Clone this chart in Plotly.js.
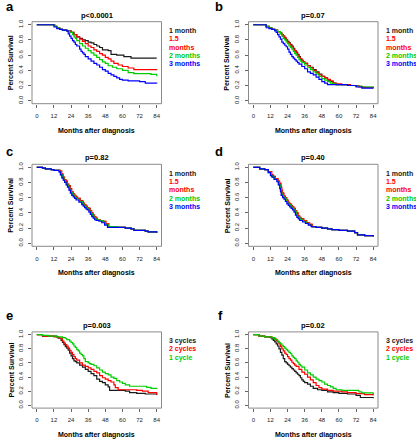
<!DOCTYPE html>
<html><head><meta charset="utf-8">
<script src="https://cdn.plot.ly/plotly-3.0.1.min.js"></script>
<style>html,body{margin:0;padding:0;background:#fff}#chart{width:416px;height:440px}</style>
</head><body><div id="chart"></div>
<script>
// ---- tick labels / text ----
const monthTicks = [0, 12, 24, 36, 48, 60, 72, 84];
const survTicks = [0, 0.2, 0.4, 0.6, 0.8, 1.0];
const survTickText = ['0.0', '0.2', '0.4', '0.6', '0.8', '1.0'];
const panelLetters = ['a', 'b', 'c', 'd', 'e', 'f'];
const pValues = ['p<0.0001', 'p=0.07', 'p=0.82', 'p=0.40', 'p=0.003', 'p=0.02'];
const intervalLegendLines = [['1 month'], ['1.5', 'months'], ['2 months'], ['3 months']];
const cycleLegendLines = [['3 cycles'], ['2 cycles'], ['1 cycle']];
const intervalColors = ['#1a1a1a', '#ff0000', '#00cc00', '#0000ff'];
const cycleColors = ['#1a1a1a', '#ff0000', '#00cc00'];

// ---- panel a ----
const aT1 = [0, 12.5, 14, 16, 18, 21, 24, 26, 28, 30, 32, 34, 36, 38, 40, 42, 44, 46, 50, 52, 56, 61, 66, 84];
const aS1 = [1, 0.98, 0.96, 0.94, 0.93, 0.92, 0.90, 0.87, 0.84, 0.82, 0.80, 0.79, 0.77, 0.76, 0.74, 0.72, 0.70, 0.67, 0.66, 0.61, 0.60, 0.58, 0.56, 0.56];
const aT15 = [0, 12.5, 14, 16, 18, 21, 24, 26, 28, 30, 32, 34, 36, 38, 40, 42, 44, 46, 48, 50, 52, 54, 57, 60, 64, 68, 84];
const aS15 = [1, 0.98, 0.96, 0.94, 0.93, 0.92, 0.90, 0.87, 0.84, 0.81, 0.78, 0.75, 0.72, 0.70, 0.67, 0.65, 0.62, 0.60, 0.57, 0.55, 0.52, 0.49, 0.47, 0.45, 0.43, 0.41, 0.40];
const aT2 = [0, 12.5, 14, 16, 18, 21, 23, 25, 26, 27, 28, 30, 32, 34, 36, 38, 40, 42, 44, 46, 48, 50, 53, 56, 60, 64, 68, 80, 84];
const aS2 = [1, 0.98, 0.96, 0.94, 0.93, 0.92, 0.90, 0.87, 0.84, 0.82, 0.79, 0.75, 0.72, 0.69, 0.66, 0.63, 0.60, 0.57, 0.54, 0.51, 0.49, 0.46, 0.44, 0.42, 0.40, 0.37, 0.355, 0.345, 0.32];
const aT3 = [0, 12, 14, 16, 18, 21, 22, 23, 24, 25, 26, 27, 28, 30, 31, 32, 33, 34, 36, 38, 40, 42, 44, 46, 48, 50, 52, 54, 56, 58, 60, 64, 72, 76, 84];
const aS3 = [1, 0.97, 0.95, 0.94, 0.93, 0.92, 0.88, 0.85, 0.82, 0.79, 0.77, 0.74, 0.72, 0.68, 0.65, 0.63, 0.61, 0.58, 0.55, 0.52, 0.49, 0.47, 0.44, 0.41, 0.39, 0.36, 0.34, 0.32, 0.30, 0.28, 0.27, 0.26, 0.25, 0.23, 0.225];

// ---- panel b ----
const bT1 = [0, 9, 11, 13, 15, 17, 19, 20, 21, 22, 23, 24, 25, 26, 27, 28, 29, 30, 31, 32, 33, 34, 35, 36, 38, 40, 42, 44, 46, 48, 50, 52, 54, 56, 58, 62, 68, 72, 76, 84];
const bS1 = [1, 0.98, 0.96, 0.94, 0.93, 0.91, 0.89, 0.87, 0.85, 0.82, 0.80, 0.78, 0.76, 0.74, 0.72, 0.69, 0.66, 0.64, 0.61, 0.58, 0.55, 0.53, 0.51, 0.49, 0.46, 0.44, 0.41, 0.38, 0.35, 0.32, 0.30, 0.27, 0.25, 0.23, 0.21, 0.21, 0.20, 0.19, 0.175, 0.17];
const bT15 = [0, 9, 11, 13, 15, 17, 19, 20, 21, 22, 23, 24, 25, 26, 27, 28, 29, 30, 31, 32, 33, 34, 35, 36, 38, 40, 42, 44, 46, 48, 50, 52, 54, 56, 58, 62, 68, 74, 78, 84];
const bS15 = [1, 0.98, 0.96, 0.94, 0.93, 0.91, 0.89, 0.87, 0.85, 0.83, 0.80, 0.77, 0.75, 0.73, 0.71, 0.68, 0.66, 0.63, 0.60, 0.57, 0.55, 0.53, 0.51, 0.49, 0.46, 0.43, 0.40, 0.37, 0.34, 0.32, 0.30, 0.28, 0.26, 0.23, 0.22, 0.21, 0.20, 0.18, 0.17, 0.17];
const bT2 = [0, 9, 11, 13, 15, 17, 19, 20, 21, 22, 23, 24, 25, 26, 27, 28, 29, 30, 31, 32, 33, 34, 36, 38, 40, 42, 44, 46, 48, 50, 52, 54, 56, 58, 62, 66, 72, 76, 84];
const bS2 = [1, 0.98, 0.96, 0.94, 0.93, 0.91, 0.88, 0.85, 0.82, 0.80, 0.77, 0.75, 0.72, 0.70, 0.68, 0.65, 0.62, 0.60, 0.57, 0.54, 0.52, 0.50, 0.47, 0.44, 0.41, 0.38, 0.35, 0.32, 0.29, 0.27, 0.25, 0.23, 0.22, 0.21, 0.21, 0.20, 0.19, 0.18, 0.175];
const bT3 = [0, 9, 11, 13, 15, 16, 17, 18, 19, 20, 21, 22, 23, 24, 25, 26, 27, 28, 29, 30, 31, 32, 34, 36, 38, 40, 42, 44, 46, 48, 50, 52, 54, 60, 66, 72, 76, 84];
const bS3 = [1, 0.96, 0.95, 0.94, 0.92, 0.90, 0.87, 0.84, 0.81, 0.77, 0.75, 0.73, 0.71, 0.68, 0.64, 0.61, 0.58, 0.56, 0.54, 0.52, 0.50, 0.48, 0.45, 0.42, 0.38, 0.36, 0.34, 0.31, 0.28, 0.25, 0.23, 0.21, 0.21, 0.21, 0.20, 0.18, 0.165, 0.16];

// ---- panel c ----
const cT1 = [0, 4, 6, 10, 12, 16, 17, 18, 19, 20, 21, 22, 23, 24, 25, 26, 27, 28, 30, 32, 33, 34, 35, 36, 37, 38, 39, 40, 41, 42, 44, 46, 48, 50, 56, 60, 62, 66, 68, 76, 78, 84];
const cS1 = [1, 0.99, 0.98, 0.97, 0.96, 0.95, 0.91, 0.87, 0.84, 0.82, 0.78, 0.76, 0.72, 0.68, 0.65, 0.63, 0.61, 0.59, 0.56, 0.53, 0.51, 0.49, 0.47, 0.46, 0.43, 0.40, 0.37, 0.35, 0.33, 0.31, 0.30, 0.29, 0.26, 0.22, 0.21, 0.21, 0.20, 0.19, 0.17, 0.16, 0.15, 0.14];
const cT15 = [0, 4, 6, 10, 12, 16.5, 17.5, 18.5, 19.5, 20.5, 21.5, 22.5, 23.5, 24.5, 25.5, 26.5, 27.5, 28.5, 30.5, 32.5, 33.5, 34.5, 35.5, 36.5, 37.5, 38.5, 39.5, 40.5, 41.5, 42.5, 44.5, 46.5, 48.5, 50.5, 56, 60, 62, 66, 68, 76, 78, 84];
const cS15 = [1, 0.99, 0.98, 0.97, 0.96, 0.95, 0.91, 0.87, 0.84, 0.82, 0.78, 0.76, 0.72, 0.68, 0.65, 0.63, 0.61, 0.59, 0.56, 0.53, 0.51, 0.49, 0.47, 0.46, 0.43, 0.40, 0.37, 0.35, 0.33, 0.31, 0.30, 0.29, 0.26, 0.22, 0.21, 0.21, 0.20, 0.19, 0.17, 0.16, 0.15, 0.14];
const cT2 = [0, 4, 6, 10, 12, 16, 17, 18, 19, 20, 21, 22, 23, 24, 25, 26, 27, 28, 30, 32, 33, 34, 35, 36, 37, 38, 39, 40, 41, 42, 44, 46, 48, 50, 56, 60, 62, 66, 68, 76, 78, 84];
const cS2 = [1, 0.99, 0.98, 0.97, 0.96, 0.94, 0.90, 0.86, 0.83, 0.80, 0.77, 0.74, 0.70, 0.67, 0.64, 0.62, 0.60, 0.58, 0.55, 0.52, 0.50, 0.48, 0.46, 0.45, 0.42, 0.39, 0.36, 0.34, 0.32, 0.31, 0.30, 0.28, 0.25, 0.22, 0.21, 0.21, 0.20, 0.19, 0.17, 0.16, 0.15, 0.14];
const cT3 = [0, 4, 6, 10, 12, 15.5, 16.5, 17.5, 18.5, 19.5, 20.5, 21.5, 22.5, 23.5, 24.5, 25.5, 26.5, 27.5, 29.5, 31.5, 32.5, 33.5, 34.5, 35.5, 36.5, 37.5, 38.5, 39.5, 40.5, 41.5, 43.5, 45.5, 47.5, 49.5, 56, 60, 62, 66, 68, 76, 78, 84];
const cS3 = [1, 0.99, 0.98, 0.97, 0.96, 0.94, 0.90, 0.86, 0.83, 0.80, 0.77, 0.74, 0.70, 0.66, 0.63, 0.61, 0.59, 0.57, 0.54, 0.51, 0.49, 0.47, 0.45, 0.44, 0.41, 0.38, 0.35, 0.33, 0.31, 0.30, 0.29, 0.27, 0.24, 0.21, 0.21, 0.21, 0.20, 0.19, 0.17, 0.16, 0.15, 0.14];

// ---- panel d ----
const dT1 = [0, 4.5, 8, 10.5, 12.5, 13.5, 15, 17, 18, 19, 19.5, 20, 21, 22, 23, 24, 25, 26, 27, 28, 29, 30, 31, 32, 33, 35, 37, 39, 41, 44, 48, 52, 55, 60, 66, 71, 73, 78, 84];
const dS1 = [1, 0.98, 0.97, 0.94, 0.90, 0.88, 0.85, 0.82, 0.79, 0.74, 0.70, 0.66, 0.62, 0.60, 0.57, 0.54, 0.52, 0.50, 0.48, 0.46, 0.43, 0.40, 0.36, 0.34, 0.32, 0.30, 0.27, 0.25, 0.22, 0.21, 0.20, 0.19, 0.18, 0.17, 0.16, 0.14, 0.11, 0.10, 0.09];
const dT15 = [0, 4.5, 8, 10.5, 13, 14, 15.5, 17.5, 18.5, 19.5, 20, 20.5, 21.5, 22.5, 23.5, 24.5, 25.5, 26.5, 27.5, 28.5, 29.5, 30.5, 31.5, 32.5, 33.5, 35.5, 37.5, 39.5, 41.5, 44, 48, 52, 55, 60, 66, 71, 73, 78, 84];
const dS15 = [1, 0.98, 0.97, 0.94, 0.90, 0.88, 0.85, 0.82, 0.79, 0.74, 0.70, 0.66, 0.62, 0.60, 0.57, 0.54, 0.52, 0.50, 0.48, 0.46, 0.43, 0.40, 0.36, 0.34, 0.32, 0.30, 0.27, 0.25, 0.22, 0.21, 0.20, 0.19, 0.18, 0.17, 0.16, 0.14, 0.11, 0.10, 0.09];
const dT2 = [0, 4.5, 8, 10.5, 12.5, 13.5, 15, 17, 18, 19, 19.5, 20, 21, 22, 23, 24, 25, 26, 27, 28, 29, 30, 31, 32, 33, 35, 37, 39, 41, 44, 48, 52, 55, 60, 66, 71, 73, 78, 84];
const dS2 = [1, 0.98, 0.97, 0.93, 0.89, 0.87, 0.84, 0.81, 0.77, 0.72, 0.68, 0.64, 0.61, 0.59, 0.56, 0.53, 0.51, 0.49, 0.47, 0.45, 0.42, 0.38, 0.35, 0.33, 0.31, 0.29, 0.26, 0.24, 0.22, 0.21, 0.20, 0.19, 0.18, 0.17, 0.16, 0.14, 0.11, 0.10, 0.09];
const dT3 = [0, 4.5, 8, 10.5, 12, 13, 14.5, 16.5, 17.5, 18.5, 19, 19.5, 20.5, 21.5, 22.5, 23.5, 24.5, 25.5, 26.5, 27.5, 28.5, 29.5, 30.5, 31.5, 32.5, 34.5, 36.5, 38.5, 40.5, 44, 48, 52, 55, 60, 66, 71, 73, 78, 84];
const dS3 = [1, 0.98, 0.97, 0.93, 0.89, 0.87, 0.84, 0.81, 0.77, 0.72, 0.68, 0.63, 0.60, 0.58, 0.55, 0.52, 0.50, 0.48, 0.46, 0.44, 0.41, 0.37, 0.34, 0.32, 0.30, 0.28, 0.26, 0.24, 0.22, 0.21, 0.20, 0.19, 0.18, 0.17, 0.16, 0.14, 0.11, 0.10, 0.09];

// ---- panel e ----
const eT3c = [0, 4, 8, 14, 15, 17, 18, 19, 20, 21, 22, 23, 24, 25, 26, 27, 28, 30, 32, 34, 36, 38, 40, 42, 44, 46, 48, 50, 51, 60, 62, 65, 70, 76, 84];
const eS3c = [1, 0.98, 0.98, 0.97, 0.95, 0.92, 0.89, 0.86, 0.83, 0.81, 0.78, 0.74, 0.70, 0.66, 0.63, 0.62, 0.60, 0.57, 0.54, 0.51, 0.48, 0.45, 0.42, 0.37, 0.34, 0.32, 0.29, 0.26, 0.21, 0.21, 0.20, 0.18, 0.17, 0.16, 0.145];
const eT2c = [0, 4, 8, 12, 15, 16, 18, 19, 20, 21, 22, 23, 24, 25, 26, 27, 28, 30, 32, 34, 36, 38, 40, 42, 44, 46, 48, 50, 52, 54, 55, 57, 70, 74, 78, 84];
const eS2c = [1, 0.98, 0.98, 0.97, 0.96, 0.95, 0.91, 0.88, 0.86, 0.84, 0.81, 0.78, 0.75, 0.72, 0.69, 0.66, 0.64, 0.60, 0.57, 0.55, 0.53, 0.51, 0.48, 0.46, 0.42, 0.39, 0.37, 0.35, 0.33, 0.29, 0.25, 0.22, 0.21, 0.20, 0.18, 0.15];
const eT1c = [0, 4, 8, 14, 18, 20, 21, 23, 24, 25, 26, 27, 28, 29, 30, 31, 32, 33, 34, 36, 37, 38, 40, 42, 44, 46, 48, 50, 52, 54, 56, 58, 60, 62, 65, 72, 77, 80, 84];
const eS1c = [1, 0.99, 0.98, 0.97, 0.96, 0.95, 0.93, 0.91, 0.89, 0.87, 0.84, 0.82, 0.79, 0.77, 0.74, 0.72, 0.70, 0.66, 0.62, 0.60, 0.59, 0.58, 0.56, 0.53, 0.50, 0.47, 0.45, 0.43, 0.40, 0.38, 0.35, 0.33, 0.31, 0.29, 0.27, 0.27, 0.255, 0.24, 0.23];

// ---- panel f ----
const fT3c = [0, 4, 8, 12, 13, 14, 15, 16, 17, 18, 19, 20, 21, 22, 23, 24, 25, 26, 27, 28, 29, 30, 31, 32, 33, 34, 35, 36, 38, 40, 42, 45, 48, 52, 56, 60, 66, 72, 75, 84];
const fS3c = [1, 0.98, 0.97, 0.96, 0.94, 0.92, 0.90, 0.87, 0.84, 0.80, 0.75, 0.71, 0.66, 0.62, 0.60, 0.58, 0.56, 0.54, 0.52, 0.50, 0.48, 0.46, 0.44, 0.42, 0.39, 0.36, 0.34, 0.32, 0.30, 0.27, 0.24, 0.22, 0.21, 0.19, 0.18, 0.17, 0.16, 0.14, 0.11, 0.10];
const fT2c = [0, 4, 8, 13, 15, 16, 17, 18, 19, 20, 21, 22, 23, 24, 25, 26, 27, 28, 29, 30, 32, 34, 36, 38, 40, 42, 44, 46, 48, 52, 56, 62, 66, 72, 78, 84];
const fS2c = [1, 0.98, 0.97, 0.96, 0.94, 0.92, 0.90, 0.87, 0.83, 0.80, 0.77, 0.74, 0.72, 0.69, 0.66, 0.64, 0.61, 0.59, 0.57, 0.55, 0.51, 0.47, 0.44, 0.40, 0.36, 0.32, 0.28, 0.25, 0.23, 0.21, 0.20, 0.19, 0.18, 0.165, 0.15, 0.14];
const fT1c = [0, 4, 8, 13, 15, 17, 18, 19, 20, 21, 22, 23, 24, 25, 26, 27, 28, 29, 30, 31, 32, 33, 34, 36, 38, 40, 42, 44, 46, 48, 50, 52, 54, 56, 58, 62, 72, 74, 76, 84];
const fS1c = [1, 0.98, 0.97, 0.96, 0.93, 0.91, 0.89, 0.87, 0.85, 0.83, 0.81, 0.79, 0.77, 0.75, 0.73, 0.70, 0.68, 0.66, 0.63, 0.61, 0.58, 0.56, 0.54, 0.50, 0.46, 0.43, 0.40, 0.37, 0.35, 0.33, 0.30, 0.28, 0.26, 0.24, 0.22, 0.21, 0.21, 0.19, 0.175, 0.155];

// ---- assemble ----
const W = 416, H = 440;
const panels = [
  {curves: [[aT1, aS1], [aT15, aS15], [aT2, aS2], [aT3, aS3]], colors: intervalColors, legend: intervalLegendLines},
  {curves: [[bT1, bS1], [bT15, bS15], [bT2, bS2], [bT3, bS3]], colors: intervalColors, legend: intervalLegendLines},
  {curves: [[cT1, cS1], [cT15, cS15], [cT2, cS2], [cT3, cS3]], colors: intervalColors, legend: intervalLegendLines},
  {curves: [[dT1, dS1], [dT15, dS15], [dT2, dS2], [dT3, dS3]], colors: intervalColors, legend: intervalLegendLines},
  {curves: [[eT3c, eS3c], [eT2c, eS2c], [eT1c, eS1c]], colors: cycleColors, legend: cycleLegendLines},
  {curves: [[fT3c, fS3c], [fT2c, fS2c], [fT1c, fS1c]], colors: cycleColors, legend: cycleLegendLines}
];
// plot boxes in pixels [left, top, right, bottom]
const colX = [[32, 161.5], [248.5, 378]];
const rowY = [[21.7, 103.7], [164.3, 246.3], [331.9, 408.1]];
const letterPos = [[4, 7], [213, 7], [4, 151], [213, 151], [4, 315], [216, 315]];
const px = x => x / W, py = y => 1 - y / H;

const data = [], annotations = [], shapes = [];
const layout = {
  width: W, height: H, margin: {l: 0, r: 0, t: 0, b: 0},
  paper_bgcolor: '#fff', plot_bgcolor: '#fff', showlegend: false,
  font: {family: 'Liberation Sans, Arial, sans-serif', color: '#000'}
};
const boldFont = (size, color) => ({family: 'Liberation Sans, Arial, sans-serif', size: size, color: color || '#000', weight: 'bold'});

panels.forEach((p, i) => {
  const col = i % 2, row = Math.floor(i / 2);
  const [x0, x1] = colX[col], [y0, y1] = rowY[row];
  const n = i + 1, xa = 'x' + (n === 1 ? '' : n), ya = 'y' + (n === 1 ? '' : n);
  layout['xaxis' + (n === 1 ? '' : n)] = {
    domain: [px(x0), px(x1)], anchor: ya, range: [-3.36, 87.36],
    tickmode: 'array', tickvals: monthTicks, ticktext: monthTicks.map(String),
    ticks: 'outside', ticklen: 3, tickwidth: 1, tickcolor: '#666',
    ticklabelstandoff: 3,
    tickfont: {size: 6, color: '#222', family: 'Liberation Sans, Arial, sans-serif'},
    showline: false, showgrid: false, zeroline: false, fixedrange: true
  };
  layout['yaxis' + (n === 1 ? '' : n)] = {
    domain: [py(y1), py(y0)], anchor: xa, range: [-0.04, 1.04],
    tickmode: 'array', tickvals: survTicks, ticktext: survTickText, tickangle: -90,
    ticks: 'outside', ticklen: 3, tickwidth: 1, tickcolor: '#666',
    ticklabelstandoff: 3,
    tickfont: {size: 6, color: '#222', family: 'Liberation Sans, Arial, sans-serif'},
    showline: false, showgrid: false, zeroline: false, fixedrange: true
  };
  shapes.push({type: 'rect', xref: xa + ' domain', yref: ya + ' domain', x0: 0, x1: 1, y0: 0, y1: 1,
    line: {color: '#8a8a8a', width: 1}, layer: 'above'});
  p.curves.forEach((c, k) => {
    data.push({x: c[0], y: c[1], xaxis: xa, yaxis: ya, type: 'scatter', mode: 'lines',
      line: {shape: 'hv', color: p.colors[k], width: 1.2}, hoverinfo: 'skip'});
  });
  const cx = (x0 + x1) / 2, cy = (y0 + y1) / 2;
  // panel title
  annotations.push({xref: 'paper', yref: 'paper', x: px(cx), y: py(y0 - 6.5), text: pValues[i],
    showarrow: false, xanchor: 'center', yanchor: 'middle', font: boldFont(7.5)});
  // x title
  annotations.push({xref: 'paper', yref: 'paper', x: px(cx), y: py(y1 + 27), text: 'Months after diagnosis',
    showarrow: false, xanchor: 'center', yanchor: 'middle', font: boldFont(7)});
  // y title
  annotations.push({xref: 'paper', yref: 'paper', x: px(x0 - 21.5), y: py(cy), text: 'Percent Survival',
    showarrow: false, xanchor: 'center', yanchor: 'middle', textangle: -90, font: boldFont(7)});
  // letter
  annotations.push({xref: 'paper', yref: 'paper', x: px(letterPos[i][0]), y: py(letterPos[i][1]), text: panelLetters[i],
    showarrow: false, xanchor: 'left', yanchor: 'middle', font: boldFont(13)});
  // legend
  let ly = y0 + 9;
  const lx = x1 + 5.5;
  p.legend.forEach((lines, k) => {
    lines.forEach(t => {
      annotations.push({xref: 'paper', yref: 'paper', x: px(lx), y: py(ly), text: t,
        showarrow: false, xanchor: 'left', yanchor: 'middle', font: boldFont(7, p.colors[k])});
      ly += 8.3;
    });
  });
});
layout.annotations = annotations;
layout.shapes = shapes;
Plotly.newPlot('chart', data, layout, {displayModeBar: false, staticPlot: true});
</script>
</body></html>
